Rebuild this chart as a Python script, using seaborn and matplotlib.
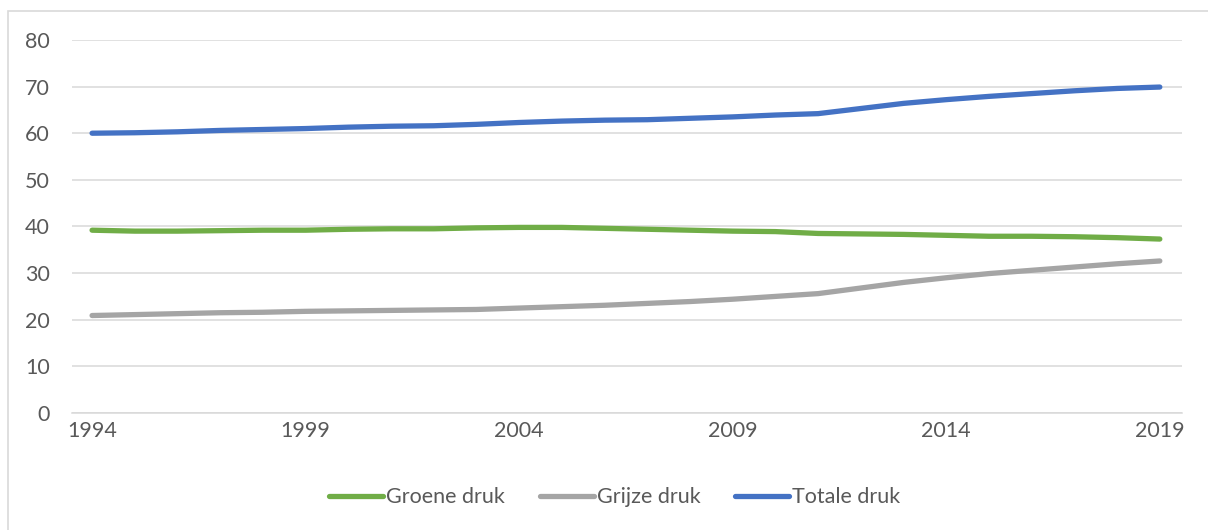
import matplotlib
matplotlib.use("Agg")
import matplotlib.pyplot as plt
from matplotlib.patches import Rectangle

import seaborn as sns
import pandas as pd

sns.set_theme(style="white")
plt.rcParams["font.family"] = ["Lato", "DejaVu Sans"]

# Data
years = list(range(1994, 2020))
groene = [39.2, 39.0, 39.0, 39.1, 39.2, 39.2, 39.4, 39.5, 39.5, 39.7, 39.8, 39.8, 39.6,
          39.4, 39.2, 39.0, 38.9, 38.5, 38.4, 38.3, 38.1, 37.9, 37.9, 37.8, 37.6, 37.3]
grijze = [20.9, 21.1, 21.3, 21.5, 21.6, 21.8, 21.9, 22.0, 22.1, 22.2, 22.5, 22.8, 23.1,
          23.5, 23.9, 24.4, 25.0, 25.6, 26.8, 28.0, 29.0, 29.9, 30.6, 31.3, 32.0, 32.6]
totale = [60.0, 60.1, 60.3, 60.6, 60.8, 61.0, 61.3, 61.5, 61.6, 61.9, 62.3, 62.6, 62.8,
          62.9, 63.2, 63.5, 63.9, 64.2, 65.3, 66.4, 67.2, 67.9, 68.5, 69.1, 69.6, 69.9]
series_names = ["Groene druk", "Grijze druk", "Totale druk"]
colors = ["#70AD47", "#A5A5A5", "#4472C4"]
xticks = [1994, 1999, 2004, 2009, 2014, 2019]
yticks = [0, 10, 20, 30, 40, 50, 60, 70, 80]

df = pd.DataFrame({"jaar": years, series_names[0]: groene,
                   series_names[1]: grijze, series_names[2]: totale})
long = df.melt(id_vars="jaar", var_name="reeks", value_name="waarde")

fig = plt.figure(figsize=(12.08, 5.30), dpi=100)
ax = fig.add_axes([0.0596, 0.2208, 0.9189, 0.7038])

sns.lineplot(data=long, x="jaar", y="waarde", hue="reeks", hue_order=series_names,
             palette=colors, linewidth=3.8, ax=ax, legend=False,
             solid_capstyle="round", zorder=3)

ax.set_xlim(1993.53, 2019.52)
ax.set_ylim(0, 80)
ax.set_xticks(xticks)
ax.set_yticks(yticks)
ax.grid(axis="y", color="#D9D9D9", linewidth=1.1, zorder=0)
ax.grid(axis="x", visible=False)
for s in ["top", "right", "left"]:
    ax.spines[s].set_visible(False)
ax.spines["bottom"].set_color("#D9D9D9")
ax.spines["bottom"].set_linewidth(1.1)
ax.tick_params(axis="y", length=0, pad=16, labelsize=15.5, labelcolor="#595959")
ax.tick_params(axis="x", length=0, pad=6, labelsize=15.5, labelcolor="#595959")
ax.set_xlabel("")
ax.set_ylabel("")

handles = [plt.Line2D([], [], color=c, linewidth=3.8, solid_capstyle="round") for c in colors]
fig.legend(handles, series_names, loc="center", bbox_to_anchor=(0.509, 0.062), ncol=3,
           frameon=False, fontsize=15.5, labelcolor="#595959", handlelength=2.5,
           handletextpad=0.15, columnspacing=1.6)

# light chart border like the original
fig.patches.append(Rectangle((8 / 1208, -0.05), 1.2, (530 - 11) / 530 + 0.05,
                             transform=fig.transFigure, fill=False,
                             edgecolor="#D9D9D9", linewidth=1.2))

fig.savefig("out.png", dpi=100)
plt.close()
